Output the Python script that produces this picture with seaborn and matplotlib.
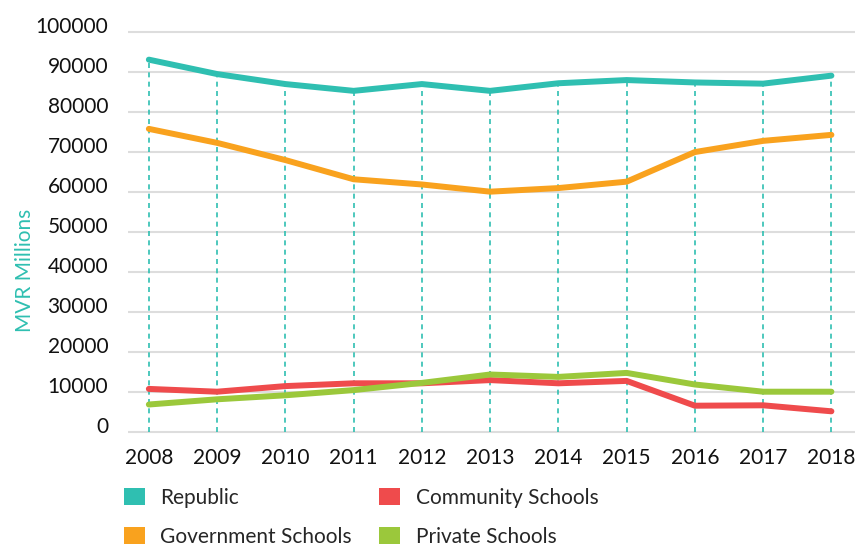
import pandas as pd
import matplotlib
matplotlib.use("Agg")
import matplotlib.pyplot as plt
from matplotlib.patches import Patch
from matplotlib.transforms import ScaledTranslation
import seaborn as sns

years = [2008, 2009, 2010, 2011, 2012, 2013, 2014, 2015, 2016, 2017, 2018]
republic = [93000, 89400, 86900, 85200, 86900, 85200, 87100, 87900, 87300, 87000, 89000]
government = [75700, 72200, 67900, 63100, 61800, 60000, 60900, 62500, 69900, 72700, 74200]
community = [10700, 10000, 11400, 12100, 12100, 12900, 12100, 12700, 6500, 6600, 5100]
private = [6800, 8100, 9100, 10400, 12200, 14300, 13700, 14700, 11800, 10000, 10000]

series_names = ["Republic", "Government Schools", "Community Schools", "Private Schools"]
palette = {"Republic": "#2fbfb1", "Government Schools": "#f9a21e",
           "Community Schools": "#ef4b4c", "Private Schools": "#9bc83b"}

df = pd.DataFrame({"year": years, "Republic": republic, "Government Schools": government,
                   "Community Schools": community, "Private Schools": private})
long_df = df.melt(id_vars="year", var_name="series", value_name="value")

sns.set_theme(style="white")
plt.rcParams['font.family'] = ['Lato', 'DejaVu Sans']

fig = plt.figure(figsize=(8.57, 5.49), dpi=100)
ax = fig.add_axes([0.149, 0.21, 0.849, 0.736])

# dashed drop lines from the Republic series down to zero
ax.vlines(years, 0, republic, colors=palette["Republic"], linewidth=1.2,
          linestyles=(0, (3, 2.6)), zorder=1)

sns.lineplot(data=long_df, x="year", y="value", hue="series", hue_order=series_names,
             palette=palette, linewidth=4.3, legend=False, ax=ax, zorder=3)
for line in ax.lines:
    line.set_solid_capstyle("round")
    line.set_solid_joinstyle("round")

ax.set_ylim(-500, 100500)
ax.set_xlim(2007.69, 2018.35)
ax.set_yticks(range(0, 100001, 10000))
ax.set_xticks(years)
ax.yaxis.grid(True, color="#dddddd", linewidth=1.5, zorder=0)
ax.xaxis.grid(False)
ax.set_axisbelow(True)
for s in ax.spines.values():
    s.set_visible(False)
ax.tick_params(axis="both", length=0, labelsize=15, labelcolor="#111111")
ax.tick_params(axis="y", pad=14)
ax.tick_params(axis="x", pad=10)

# y tick labels sit a little above their gridlines
lift = ScaledTranslation(0, 6.5 / 100, fig.dpi_scale_trans)
for lbl in ax.get_yticklabels():
    lbl.set_transform(lbl.get_transform() + lift)

ax.set_xlabel("")
ax.set_ylabel("MVR Millions", fontsize=15, color=palette["Republic"])
ax.yaxis.set_label_coords(-0.128, 0.403)

handles = [Patch(facecolor=palette[n], edgecolor="none", label=n) for n in series_names]
fig.legend(handles=handles, loc="upper left", bbox_to_anchor=(124 / 857, 1 - 488 / 549),
           ncol=2, frameon=False, fontsize=15, handlelength=1.0, handleheight=0.9,
           handletextpad=0.75, columnspacing=1.3, labelspacing=0.9,
           borderpad=0, borderaxespad=0)

fig.savefig("out.png", dpi=100)
